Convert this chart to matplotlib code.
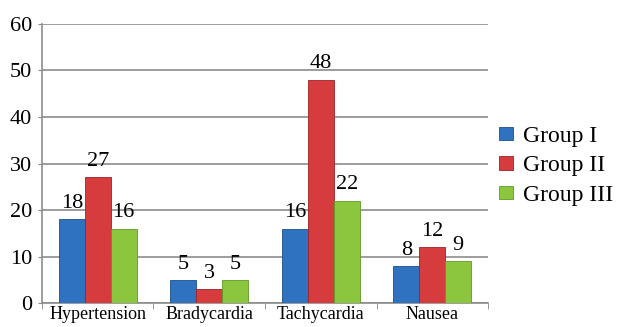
import matplotlib
matplotlib.use("Agg")
import matplotlib.pyplot as plt
import numpy as np

categories = ["Hypertension", "Bradycardia", "Tachycardia", "Nausea"]
group1 = [18, 5, 16, 8]
group2 = [27, 3, 48, 12]
group3 = [16, 5, 22, 9]
series_names = ["Group I", "Group II", "Group III"]
colors = ["#2f72c0", "#d63c3e", "#8cc63f"]
edges = ["#1d4f8c", "#9c2326", "#5f9a25"]

plt.rcParams['font.family'] = ['Liberation Serif', 'DejaVu Serif']

fig = plt.figure(figsize=(6.17, 3.27), dpi=100)
ax = fig.add_axes([0.068, 0.073, 0.723, 0.854])

x = np.arange(len(categories))
w = 0.232
for i, (vals, name) in enumerate(zip([group1, group2, group3], series_names)):
    pos = x + (i - 1) * w
    ax.bar(pos, vals, w, color=colors[i], edgecolor=edges[i], linewidth=0.6,
           label=name, zorder=3)
    for p, v in zip(pos, vals):
        ax.annotate(str(v), (p, v), xytext=(0, 4.5), textcoords='offset points',
                    ha='center', va='bottom', fontsize=16, zorder=4)

ax.set_xlim(-0.5, len(categories) - 0.5)
ax.set_ylim(0, 60)
ax.set_yticks(range(0, 61, 10))
ax.tick_params(axis='y', labelsize=16, length=3, color='#888888', direction='out', pad=4)
ax.set_xticks(x)
ax.set_xticklabels(categories, fontsize=13)
ax.tick_params(axis='x', length=0, pad=2)
ax.set_xticks(np.arange(-0.5, len(categories), 1), minor=True)
ax.tick_params(axis='x', which='minor', length=4, color='#888888')
ax.yaxis.grid(True, color='#8c8c8c', linewidth=1.2, zorder=0)
for s in ['top', 'right']:
    ax.spines[s].set_visible(False)
for s in ['left', 'bottom']:
    ax.spines[s].set_color('#8c8c8c')
    ax.spines[s].set_linewidth(1.2)

handles, labels = ax.get_legend_handles_labels()
fig.legend(handles, labels, loc='center left', bbox_to_anchor=(0.809, 0.493),
           frameon=False, fontsize=17, handlelength=0.6, handleheight=0.5,
           handletextpad=0.42, labelspacing=0.36, borderaxespad=0, borderpad=0)

fig.savefig("out.png", dpi=100)
